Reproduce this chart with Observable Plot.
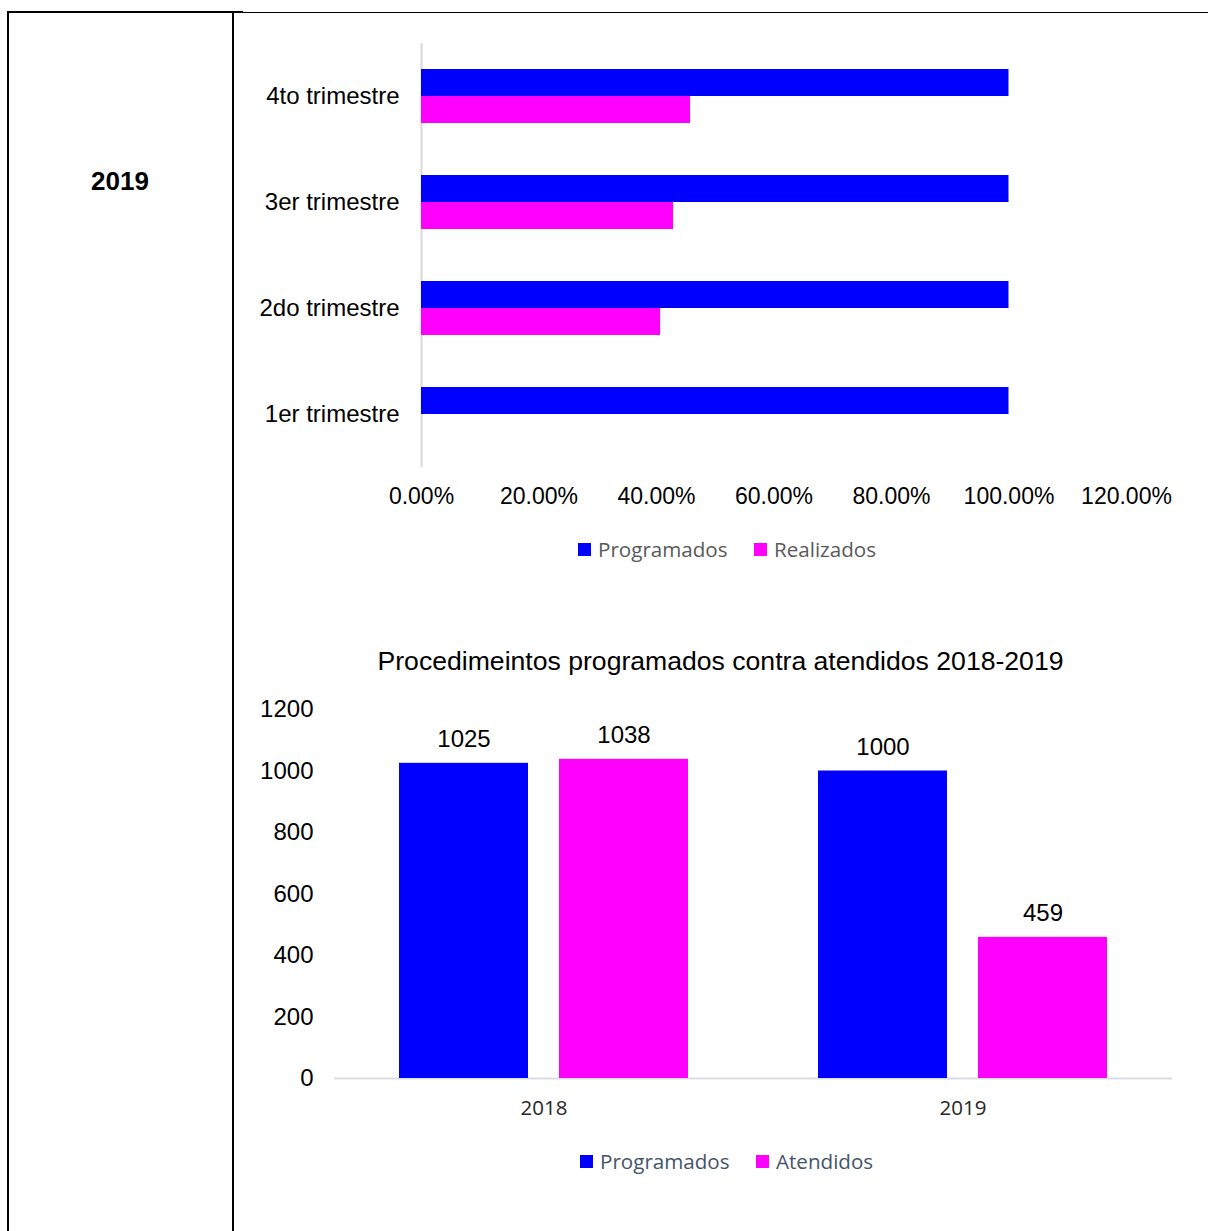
<!DOCTYPE html>
<html>
<head>
<meta charset="utf-8">
<script src="https://cdn.jsdelivr.net/npm/d3@7"></script>
<script src="https://cdn.jsdelivr.net/npm/@observablehq/plot@0.6"></script>
<style>
  body { margin: 0; background: #fff; }
  #page { position: relative; width: 1208px; height: 1231px; overflow: hidden; background: #fff; font-family: "Liberation Sans", Arial, sans-serif; }
  .line { position: absolute; background: #000; }
  .abs { position: absolute; }
  .leg { position: absolute; display: flex; align-items: center; font-family: "Open Sans", sans-serif; font-size: 20.6px; white-space: nowrap; }
  .sw { width: 13px; height: 13px; margin-right: 7px; }
  [aria-label^="fx-axis"] text { font-family: "Open Sans", sans-serif; font-size: 20.5px; fill: #262626; }
</style>
</head>
<body>
<div id="page">
  <div class="line" style="left:7px;top:11px;width:2px;height:1220px"></div>
  <div class="line" style="left:232px;top:11px;width:2px;height:1220px"></div>
  <div class="line" style="left:7px;top:11px;width:236px;height:2px"></div>
  <div class="line" style="left:243px;top:12px;width:965px;height:1px"></div>
  <div class="abs" style="left:7px;top:165px;width:226px;text-align:center;font-weight:bold;font-size:26px;line-height:32px">2019</div>
  <div id="chart1" class="abs" style="left:233px;top:28px"></div>
  <div id="legend1"></div>
  <div class="abs" style="left:233px;top:645px;width:975px;text-align:center;font-size:26.6px;line-height:32px;color:#000">Procedimeintos programados contra atendidos 2018-2019</div>
  <div id="chart2" class="abs" style="left:233px;top:690px"></div>
  <div id="legend2"></div>
</div>
<script>
// ---- Chart 1 data (percent of programmed procedures per quarter, 2019)
const trimestres = ["4to trimestre", "3er trimestre", "2do trimestre", "1er trimestre"];
const programadosPct = [1.0, 1.0, 1.0, 1.0];
const realizadosPct = [0.458, 0.429, 0.407, 0];
const series1 = ["Programados", "Realizados"];
const pctTicks = [0, 0.2, 0.4, 0.6, 0.8, 1.0, 1.2];

// ---- Chart 2 data (procedures programmed vs attended)
const years = ["2018", "2019"];
const programadosCount = [1025, 1000];
const atendidosCount = [1038, 459];
const series2 = ["Programados", "Atendidos"];
const countTicks = [0, 200, 400, 600, 800, 1000, 1200];

const colors = ["#0000ff", "#ff00ff"];

const rows1 = [];
trimestres.forEach((t, i) => {
  rows1.push({trimestre: t, serie: series1[0], value: programadosPct[i]});
  rows1.push({trimestre: t, serie: series1[1], value: realizadosPct[i]});
});

const rows2 = [];
years.forEach((y, i) => {
  rows2.push({year: y, serie: series2[0], value: programadosCount[i]});
  rows2.push({year: y, serie: series2[1], value: atendidosCount[i]});
});

const chart1 = Plot.plot({
  width: 975,
  height: 484,
  marginLeft: 188,
  marginRight: 82,
  marginTop: 14,
  marginBottom: 45,
  style: {fontFamily: "'Liberation Sans', Arial, sans-serif", fontSize: "23px", color: "#000", background: "transparent", overflow: "visible"},
  facet: {data: rows1, y: "trimestre"},
  fy: {domain: trimestres, padding: 0, axis: "left", label: null, tickSize: 0, tickPadding: 22},
  y: {domain: series1, axis: null, paddingInner: 0, paddingOuter: 0.897},
  x: {domain: [0, 1.2], ticks: pctTicks, tickFormat: d3.format(".2%"), tickSize: 0, tickPadding: 20, label: null},
  color: {domain: series1, range: colors},
  marks: [
    Plot.ruleX([0], {stroke: "#d9d9d9", strokeWidth: 2}),
    Plot.barX(rows1, {x: "value", y: "serie", fill: "serie"})
  ]
});
chart1.querySelectorAll('[aria-label^="fy-axis"] text').forEach(t => t.setAttribute("font-size", "24px"));
document.getElementById("chart1").appendChild(chart1);

const chart2 = Plot.plot({
  width: 975,
  height: 438,
  marginLeft: 101,
  marginRight: 36,
  marginTop: 19,
  marginBottom: 50,
  style: {fontFamily: "'Liberation Sans', Arial, sans-serif", fontSize: "24px", color: "#000", background: "transparent", overflow: "visible"},
  facet: {data: rows2, x: "year"},
  fx: {domain: years, padding: 0, axis: "bottom", label: null, tickSize: 0, tickPadding: 22},
  x: {domain: series2, axis: null, paddingInner: 0.1925, paddingOuter: 0.3975},
  y: {domain: [0, 1200], ticks: countTicks, tickFormat: d => String(d), tickSize: 0, tickPadding: 21, label: null},
  color: {domain: series2, range: colors},
  marks: [
    Plot.ruleY([0], {stroke: "#d9dee5", strokeWidth: 2}),
    Plot.barY(rows2, {x: "serie", y: "value", fill: "serie"}),
    Plot.text(rows2, {x: "serie", y: "value", text: d => String(d.value), dy: -24, fontSize: 24, fill: "#000"})
  ]
});
document.getElementById("chart2").appendChild(chart2);

function legend(id, labels, lefts, top, color) {
  const host = document.getElementById(id);
  labels.forEach((lab, i) => {
    const item = document.createElement("div");
    item.className = "leg";
    item.style.left = lefts[i] + "px";
    item.style.top = top + "px";
    item.style.color = color;
    const sw = document.createElement("span");
    sw.className = "sw";
    sw.style.background = colors[i];
    const tx = document.createElement("span");
    tx.textContent = lab;
    item.appendChild(sw);
    item.appendChild(tx);
    host.appendChild(item);
  });
}
legend("legend1", series1, [578, 754], 535, "#595959");
legend("legend2", series2, [580, 756], 1147, "#44546a");
</script>
</body>
</html>
